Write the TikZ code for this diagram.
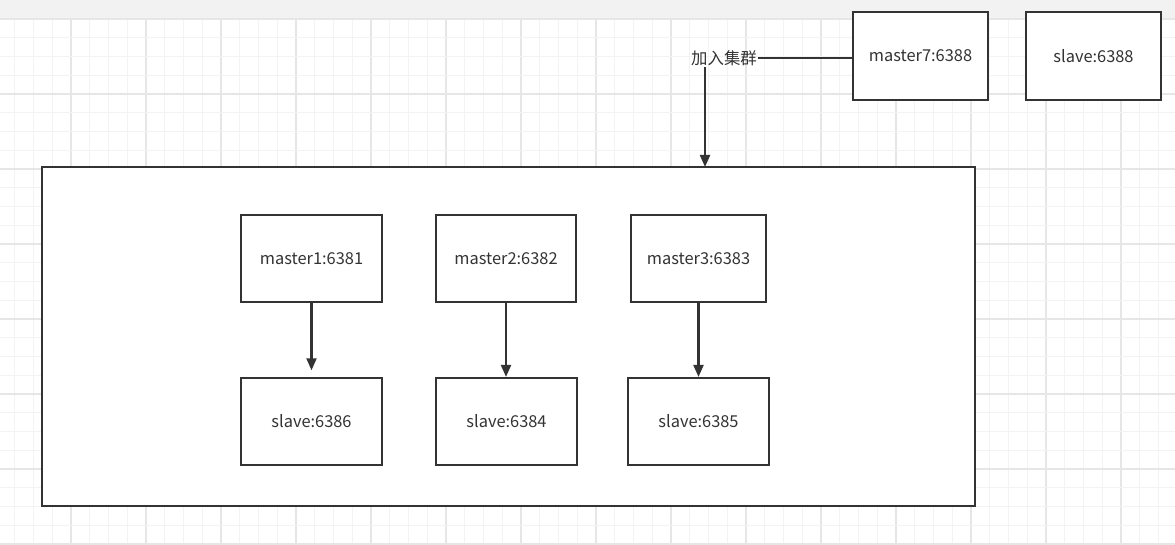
\documentclass[tikz,border=0pt]{standalone}
\usepackage{fontspec}
\setmainfont{Noto Sans CJK SC}
\usetikzlibrary{arrows.meta}
\definecolor{ink}{HTML}{333333}
\definecolor{minorgrid}{HTML}{F3F3F3}
\definecolor{majorgrid}{HTML}{E6E6E6}
\definecolor{topbar}{HTML}{F2F2F2}
\tikzset{
  box/.style={draw=ink, line width=1.6pt, fill=white, inner sep=0pt, text=ink, font=\fontsize{12.3pt}{14pt}\selectfont},
  conn/.style={draw=ink, line width=1.6pt},
  arr/.style={conn, -{Triangle[length=9pt,width=7.5pt]}},
}
\begin{document}
\begin{tikzpicture}[x=0.75pt,y=-0.75pt]
\useasboundingbox (0,0) rectangle (1175,545);
\fill[white] (0,0) rectangle (1175,545);
% grid
\foreach \k in {-3,...,59} {
  \pgfmathsetmacro\xx{71+18.75*\k}
  \pgfmathtruncatemacro\mm{mod(\k+40,4)}
  \ifnum\mm=0
    \draw[majorgrid, line width=0.9pt] (\xx,19) -- (\xx,545);
  \else
    \draw[minorgrid, line width=0.9pt] (\xx,19) -- (\xx,545);
  \fi
}
\foreach \k in {0,...,28} {
  \pgfmathsetmacro\yy{19+18.75*\k}
  \pgfmathtruncatemacro\mm{mod(\k,4)}
  \ifnum\mm=0
    \draw[majorgrid, line width=0.9pt] (0,\yy) -- (1175,\yy);
  \else
    \draw[minorgrid, line width=0.9pt] (0,\yy) -- (1175,\yy);
  \fi
}
\fill[topbar] (0,0) rectangle (1175,18.5);
% nodes
\node[box, minimum width=101.25pt, minimum height=66pt] (m7) at (920.5,56) {master7:6388};
\node[box, minimum width=101.25pt, minimum height=66pt] (s7) at (1093.5,56) {slave:6388};
\node[box, minimum width=699.75pt, minimum height=254.25pt] (cl) at (508.5,336.5) {};
\node[box, minimum width=105.75pt, minimum height=65.25pt] (m1) at (311.5,258.5) {master1:6381};
\node[box, minimum width=105pt, minimum height=65.25pt] (m2) at (506,258.5) {master2:6382};
\node[box, minimum width=101.25pt, minimum height=65.25pt] (m3) at (698.5,258.5) {master3:6383};
\node[box, minimum width=105.75pt, minimum height=65.25pt] (s1) at (311.5,421.5) {slave:6386};
\node[box, minimum width=105.75pt, minimum height=65.25pt] (s2) at (506.5,421.5) {slave:6384};
\node[box, minimum width=105.75pt, minimum height=65.25pt] (s3) at (698.5,421.5) {slave:6385};
\node[text=ink, inner sep=1pt, font=\fontsize{12.3pt}{14pt}\selectfont] (lbl) at (724,58) {加入集群};
\coordinate (join) at (705,167);
% connectors
\draw[conn] (lbl.east) -- (m7.west |- lbl.east);
\draw[arr] (lbl.south -| join) -- (join);
\draw[arr, shorten >=5pt] (m1.south) -- (m1.south |- s1.north);
\draw[arr] (m2.south) -- (m2.south |- s2.north);
\draw[arr] (m3.south) -- (m3.south |- s3.north);
\end{tikzpicture}
\end{document}
